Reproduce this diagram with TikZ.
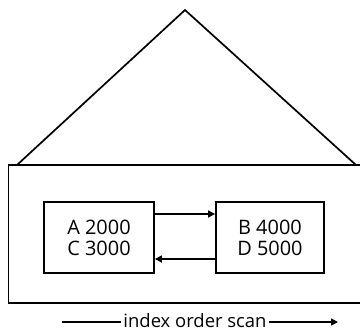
\documentclass[tikz,border=0pt]{standalone}
\usepackage{fontspec}
\setmainfont{Open Sans}
\usetikzlibrary{positioning,arrows.meta}

\begin{document}
\begin{tikzpicture}[
    x=1bp, y=-1bp,
    page/.style={
        draw=black,
        line width=1.8bp,
        minimum width=110bp,
        minimum height=71bp,
        align=center,
        inner sep=0pt,
        font=\fontsize{20}{21}\selectfont
    },
    arr/.style={
        -{Triangle[length=7bp,width=7bp]},
        line width=1.6bp
    },
    outline/.style={
        line width=1.7bp
    }
]

\useasboundingbox (0,0) rectangle (360,332);

\coordinate (apex) at (185,10);
\coordinate (baseleft) at (17,165);
\coordinate (baseright) at (356,165);

\draw[outline, line join=miter] (baseleft) -- (apex) -- (baseright);
\draw[outline] (365,165) -- (8.5,165) -- (8.5,303) -- (365,303);

\node[page] (leafa) at (99,237.5) {A 2000\\C 3000};
\node[page, minimum width=108bp] (leafb) at (270,237.5) {B 4000\\D 5000};

\draw[arr] (leafa.east |- 0,214) -- (leafb.west |- 0,214);
\draw[arr] (leafb.west |- 0,259) -- (leafa.east |- 0,259);

\node[inner xsep=2bp, anchor=base, font=\fontsize{18.5}{18.5}\selectfont] (scan) at (195,327) {index order scan};

\coordinate (scanstart) at (62,322);
\coordinate (scanend) at (338,322);

\draw[line width=1.6bp] (scanstart) -- (scan.west |- scanstart);
\draw[arr] (scan.east |- scanend) -- (scanend);

\end{tikzpicture}
\end{document}
